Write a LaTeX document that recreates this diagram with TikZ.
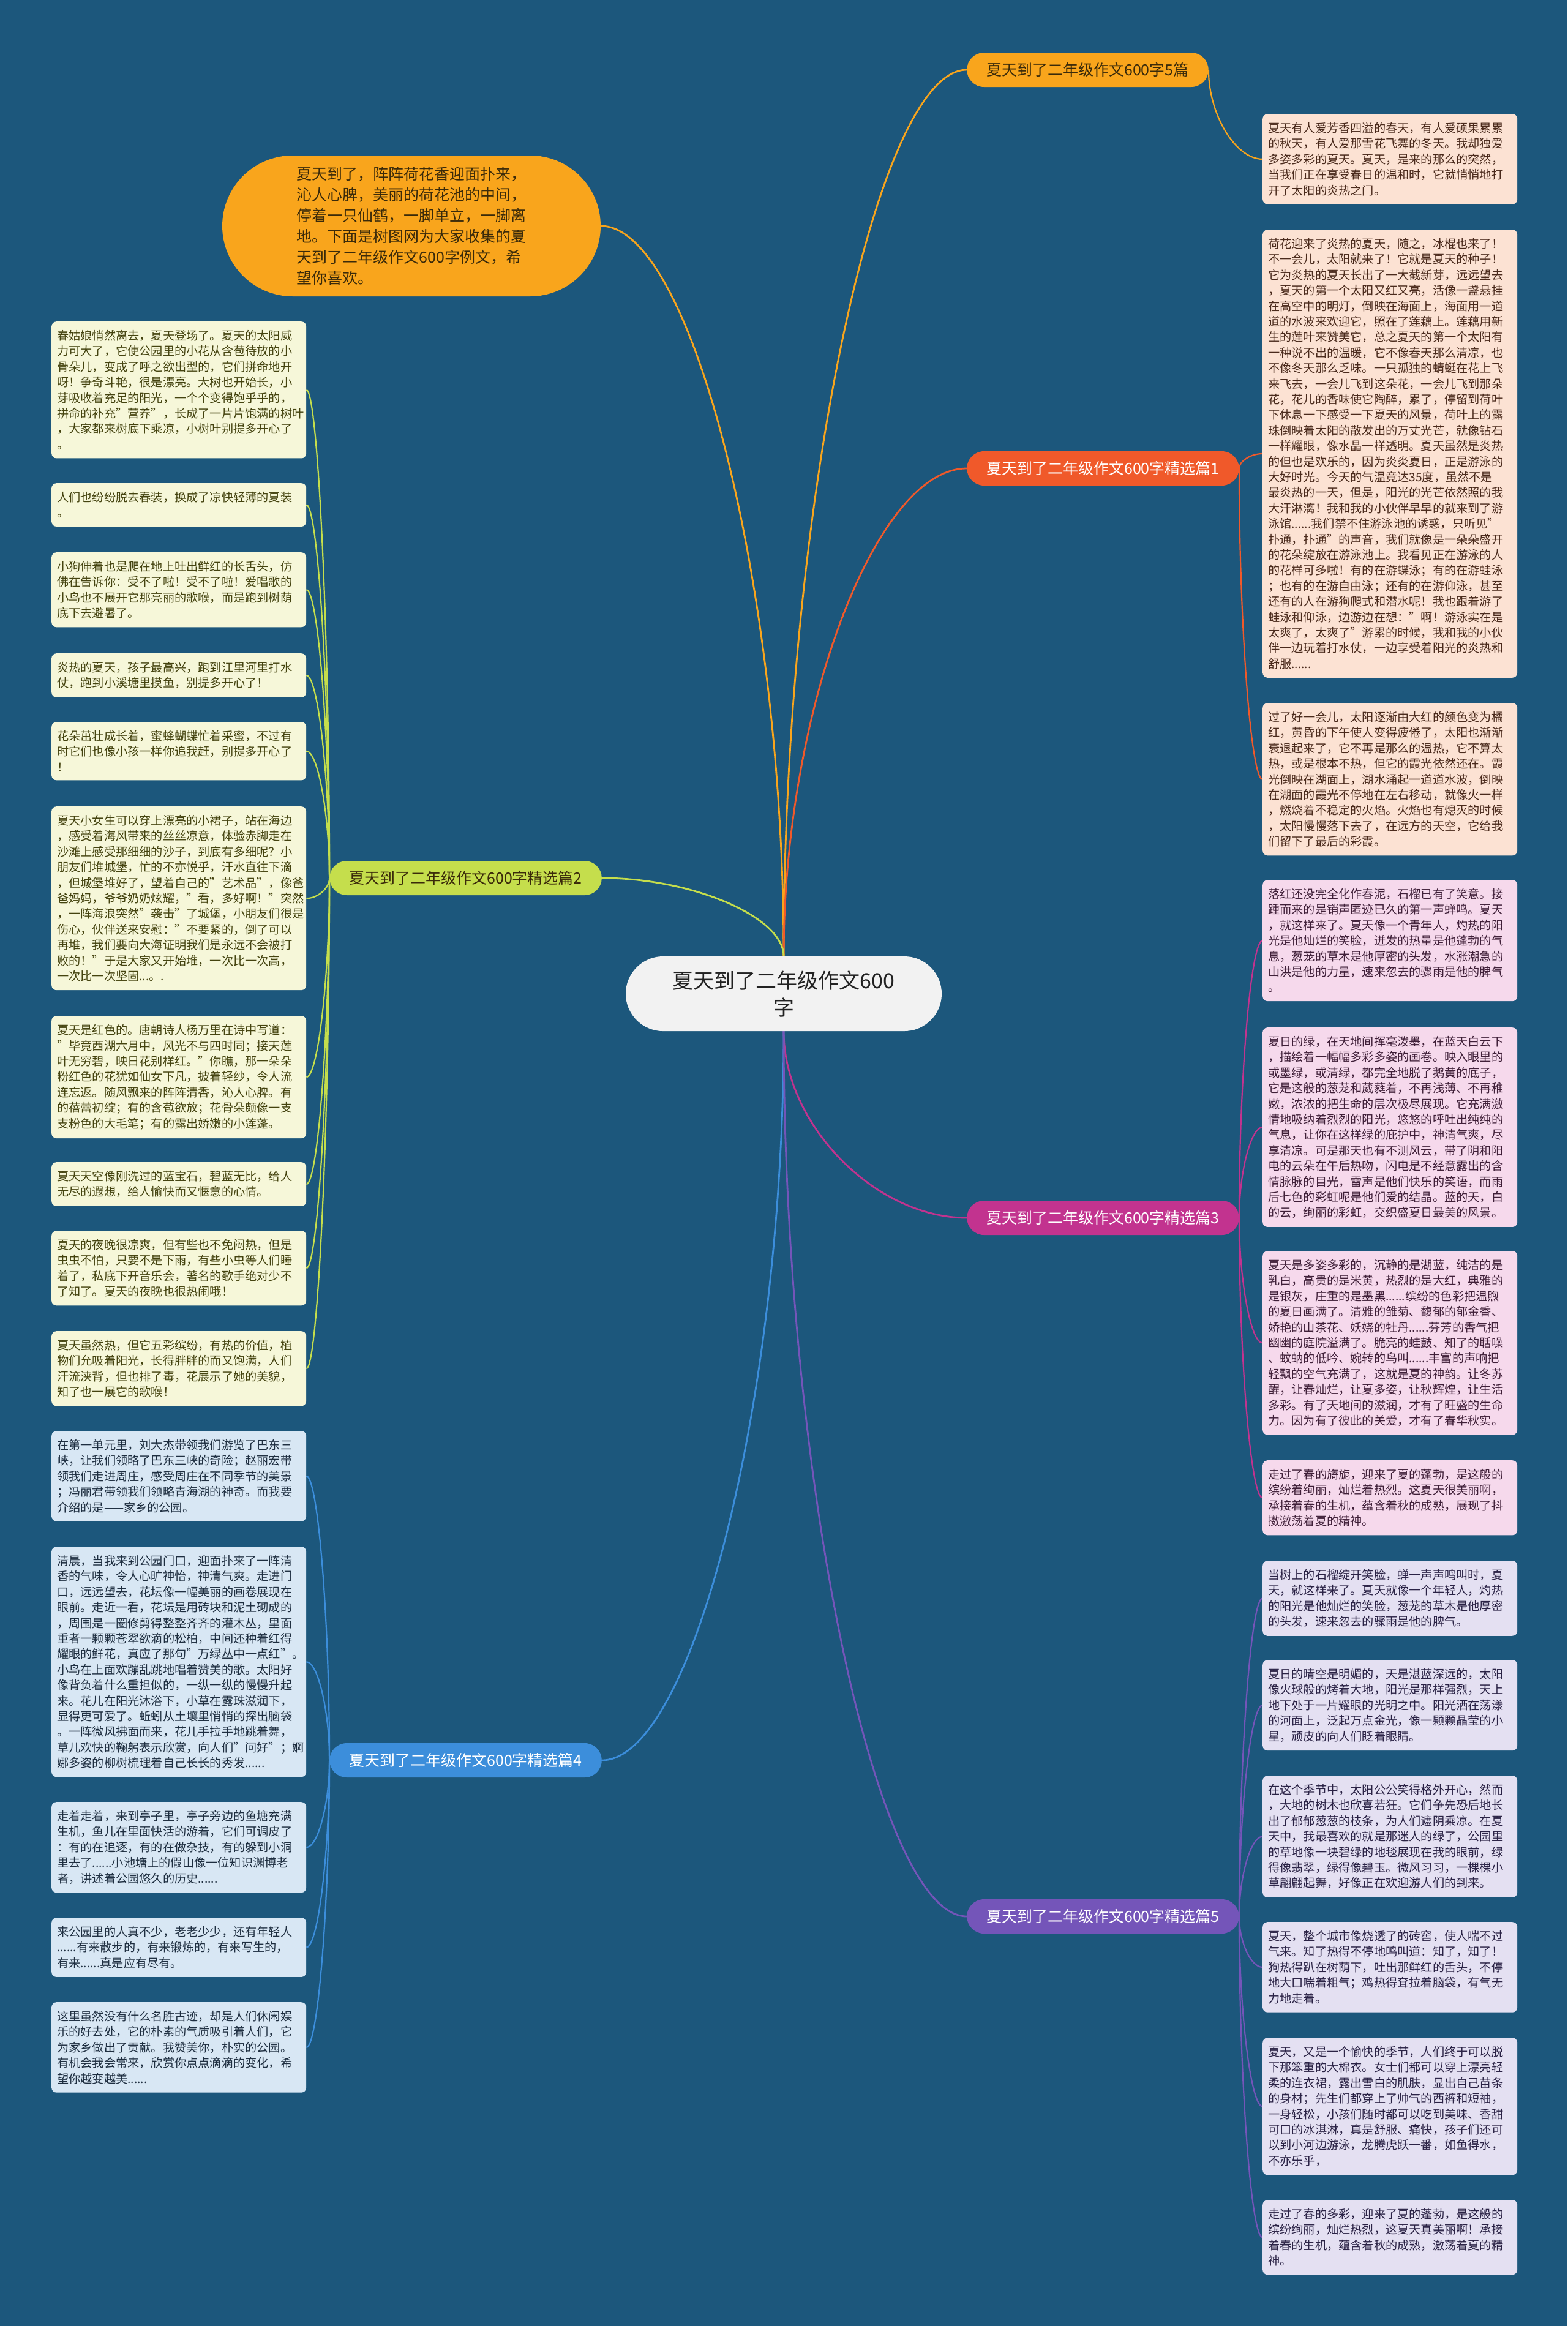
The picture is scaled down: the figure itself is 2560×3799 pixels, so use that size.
\documentclass[tikz,border=0pt]{standalone}
\usepackage{fontspec}
\setmainfont{Noto Sans CJK SC}
\usetikzlibrary{calc}

\definecolor{bg}{HTML}{1C577C}
\definecolor{orangeA}{HTML}{F9A51C}
\definecolor{redA}{HTML}{F0592A}
\definecolor{limeA}{HTML}{C5DE4C}
\definecolor{magA}{HTML}{C2338F}
\definecolor{blueA}{HTML}{3C8EDB}
\definecolor{purA}{HTML}{7455B9}
\definecolor{peachbox}{HTML}{FCE2D3}
\definecolor{peachtxt}{HTML}{4A2A1C}
\definecolor{limebox}{HTML}{F6F7D9}
\definecolor{limetxt}{HTML}{44430F}
\definecolor{pinkbox}{HTML}{F6D9EC}
\definecolor{pinktxt}{HTML}{3F1F38}
\definecolor{bluebox}{HTML}{D8E7F4}
\definecolor{bluetxt}{HTML}{1E2E40}
\definecolor{lavbox}{HTML}{E4E0F2}
\definecolor{lavtxt}{HTML}{2A2245}
\definecolor{centerfill}{HTML}{F2F2F2}
\definecolor{centertxt}{HTML}{222222}
\definecolor{darktxt}{HTML}{3A2A0A}

\pgfdeclarelayer{bgfill}
\pgfdeclarelayer{lines}
\pgfsetlayers{bgfill,lines,main}

\tikzset{
  leafbase/.style={rounded corners=8pt, text width=398pt, inner xsep=9pt, inner ysep=14pt,
    align=left, font=\fontsize{19.2}{25.4}\selectfont},
  leftleaf/.style={leafbase, anchor=north west},
  rightleaf/.style={leafbase, anchor=north west},
  boxlime/.style={fill=limebox, text=limetxt},
  boxblue/.style={fill=bluebox, text=bluetxt},
  boxpeach/.style={fill=peachbox, text=peachtxt},
  boxpink/.style={fill=pinkbox, text=pinktxt},
  boxlav/.style={fill=lavbox, text=lavtxt},
  branchlab/.style={rounded corners=28pt, minimum height=56pt, inner xsep=32pt, inner ysep=0pt,
    font=\fontsize{25}{30}\selectfont},
  mainconn/.style={line width=2.8pt},
  leafconn/.style={line width=2.2pt}
}

\newcommand{\linkit}[3]{\draw[#1] let \p1=(#2), \p2=(#3) in (\p1) .. controls (\x1,{0.5*\y1+0.5*\y2}) and ({0.5*\x1+0.5*\x2},\y2) .. (\p2);}

\begin{document}
\begin{tikzpicture}[x=1pt,y=1pt]
\begin{pgfonlayer}{bgfill}
\fill[bg] (0,0) rectangle (2560,-3799);
\end{pgfonlayer}
\useasboundingbox (0,0) rectangle (2560,-3799);

% central and intro
\node[fill=centerfill, rounded corners=61pt, minimum width=516pt, minimum height=122pt, align=center,
  font=\fontsize{34}{44}\selectfont, text=centertxt] (c) at (1280,-1623) {夏天到了二年级作文600\\字};

\node[fill=orangeA, rounded corners=115pt, minimum width=618pt, minimum height=230pt, align=left,
  font=\fontsize{25}{34}\selectfont, text=darktxt] (intro) at (672,-369) {夏天到了，阵阵荷花香迎面扑来，\\
沁人心脾，美丽的荷花池的中间，\\
停着一只仙鹤，一脚单立，一脚离\\
地。下面是树图网为大家收集的夏\\
天到了二年级作文600字例文，希\\
望你喜欢。};

% branch labels
\node[branchlab, fill=orangeA, text=darktxt, anchor=west] (lab5) at (1579,-114) {夏天到了二年级作文600字5篇};
\node[branchlab, fill=redA, text=white, anchor=west] (lab1) at (1579,-765) {夏天到了二年级作文600字精选篇1};
\node[branchlab, fill=limeA, text=darktxt, anchor=east] (lab2) at (983,-1434) {夏天到了二年级作文600字精选篇2};
\node[branchlab, fill=magA, text=white, anchor=west] (lab3) at (1579,-1989) {夏天到了二年级作文600字精选篇3};
\node[branchlab, fill=blueA, text=white, anchor=east] (lab4) at (983,-2875) {夏天到了二年级作文600字精选篇4};
\node[branchlab, fill=purA, text=white, anchor=west] (lab6) at (1579,-3130) {夏天到了二年级作文600字精选篇5};

% ---------- left: group 2 ----------
\node[leftleaf, boxlime] (a1) at (84,-525) {春姑娘悄然离去，夏天登场了。夏天的太阳威\\
力可大了，它使公园里的小花从含苞待放的小\\
骨朵儿，变成了呼之欲出型的，它们拼命地开\\
呀！争奇斗艳，很是漂亮。大树也开始长，小\\
芽吸收着充足的阳光，一个个变得饱乎乎的，\\
拼命的补充"营养"，长成了一片片饱满的树叶\\
，大家都来树底下乘凉，小树叶别提多开心了\\
。};
\node[leftleaf, boxlime] (a2) at (84,-789) {人们也纷纷脱去春装，换成了凉快轻薄的夏装\\
。};
\node[leftleaf, boxlime] (a3) at (84,-902) {小狗伸着也是爬在地上吐出鲜红的长舌头，仿\\
佛在告诉你：受不了啦！受不了啦！爱唱歌的\\
小鸟也不展开它那亮丽的歌喉，而是跑到树荫\\
底下去避暑了。};
\node[leftleaf, boxlime] (a4) at (84,-1067) {炎热的夏天，孩子最高兴，跑到江里河里打水\\
仗，跑到小溪塘里摸鱼，别提多开心了！};
\node[leftleaf, boxlime] (a5) at (84,-1179) {花朵茁壮成长着，蜜蜂蝴蝶忙着采蜜，不过有\\
时它们也像小孩一样你追我赶，别提多开心了\\
！};
\node[leftleaf, boxlime] (a6) at (84,-1317) {夏天小女生可以穿上漂亮的小裙子，站在海边\\
，感受着海风带来的丝丝凉意，体验赤脚走在\\
沙滩上感受那细细的沙子，到底有多细呢？小\\
朋友们堆城堡，忙的不亦悦乎，汗水直往下滴\\
，但城堡堆好了，望着自己的"艺术品"，像爸\\
爸妈妈，爷爷奶奶炫耀，"看，多好啊！"突然\\
，一阵海浪突然"袭击"了城堡，小朋友们很是\\
伤心，伙伴送来安慰："不要紧的，倒了可以\\
再堆，我们要向大海证明我们是永远不会被打\\
败的！"于是大家又开始堆，一次比一次高，\\
一次比一次坚固...。.};
\node[leftleaf, boxlime] (a7) at (84,-1659) {夏天是红色的。唐朝诗人杨万里在诗中写道：\\
"毕竟西湖六月中，风光不与四时同；接天莲\\
叶无穷碧，映日花别样红。"你瞧，那一朵朵\\
粉红色的花犹如仙女下凡，披着轻纱，令人流\\
连忘返。随风飘来的阵阵清香，沁人心脾。有\\
的蓓蕾初绽；有的含苞欲放；花骨朵颇像一支\\
支粉色的大毛笔；有的露出娇嫩的小莲蓬。};
\node[leftleaf, boxlime] (a8) at (84,-1898) {夏天天空像刚洗过的蓝宝石，碧蓝无比，给人\\
无尽的遐想，给人愉快而又惬意的心情。};
\node[leftleaf, boxlime] (a9) at (84,-2010) {夏天的夜晚很凉爽，但有些也不免闷热，但是\\
虫虫不怕，只要不是下雨，有些小虫等人们睡\\
着了，私底下开音乐会，著名的歌手绝对少不\\
了知了。夏天的夜晚也很热闹哦！};
\node[leftleaf, boxlime] (a10) at (84,-2174) {夏天虽然热，但它五彩缤纷，有热的价值，植\\
物们允吸着阳光，长得胖胖的而又饱满，人们\\
汗流浃背，但也排了毒，花展示了她的美貌，\\
知了也一展它的歌喉！};

% ---------- left: group 4 ----------
\node[leftleaf, boxblue] (b1) at (84,-2337) {在第一单元里，刘大杰带领我们游览了巴东三\\
峡，让我们领略了巴东三峡的奇险；赵丽宏带\\
领我们走进周庄，感受周庄在不同季节的美景\\
；冯丽君带领我们领略青海湖的神奇。而我要\\
介绍的是——家乡的公园。};
\node[leftleaf, boxblue] (b2) at (84,-2526) {清晨，当我来到公园门口，迎面扑来了一阵清\\
香的气味，令人心旷神怡，神清气爽。走进门\\
口，远远望去，花坛像一幅美丽的画卷展现在\\
眼前。走近一看，花坛是用砖块和泥土砌成的\\
，周围是一圈修剪得整整齐齐的灌木丛，里面\\
重者一颗颗苍翠欲滴的松柏，中间还种着红得\\
耀眼的鲜花，真应了那句"万绿丛中一点红"。\\
小鸟在上面欢蹦乱跳地唱着赞美的歌。太阳好\\
像背负着什么重担似的，一纵一纵的慢慢升起\\
来。花儿在阳光沐浴下，小草在露珠滋润下，\\
显得更可爱了。蚯蚓从土壤里悄悄的探出脑袋\\
。一阵微风拂面而来，花儿手拉手地跳着舞，\\
草儿欢快的鞠躬表示欣赏，向人们"问好"；婀\\
娜多姿的柳树梳理着自己长长的秀发......};
\node[leftleaf, boxblue] (b3) at (84,-2943) {走着走着，来到亭子里，亭子旁边的鱼塘充满\\
生机，鱼儿在里面快活的游着，它们可调皮了\\
：有的在追逐，有的在做杂技，有的躲到小洞\\
里去了......小池塘上的假山像一位知识渊博老\\
者，讲述着公园悠久的历史......};
\node[leftleaf, boxblue] (b4) at (84,-3132) {来公园里的人真不少，老老少少，还有年轻人\\
......有来散步的，有来锻炼的，有来写生的，\\
有来......真是应有尽有。};
\node[leftleaf, boxblue] (b5) at (84,-3270) {这里虽然没有什么名胜古迹，却是人们休闲娱\\
乐的好去处，它的朴素的气质吸引着人们，它\\
为家乡做出了贡献。我赞美你，朴实的公园。\\
有机会我会常来，欣赏你点点滴滴的变化，希\\
望你越变越美......};

% ---------- right: 5篇 ----------
\node[rightleaf, boxpeach] (r0) at (2062,-186) {夏天有人爱芳香四溢的春天，有人爱硕果累累\\
的秋天，有人爱那雪花飞舞的冬天。我却独爱\\
多姿多彩的夏天。夏天，是来的那么的突然，\\
当我们正在享受春日的温和时，它就悄悄地打\\
开了太阳的炎热之门。};

% ---------- right: 篇1 ----------
\node[rightleaf, boxpeach] (r1) at (2062,-375) {荷花迎来了炎热的夏天，随之，冰棍也来了！\\
不一会儿，太阳就来了！它就是夏天的种子！\\
它为炎热的夏天长出了一大截新芽，远远望去\\
，夏天的第一个太阳又红又亮，活像一盏悬挂\\
在高空中的明灯，倒映在海面上，海面用一道\\
道的水波来欢迎它，照在了莲藕上。莲藕用新\\
生的莲叶来赞美它，总之夏天的第一个太阳有\\
一种说不出的温暖，它不像春天那么清凉，也\\
不像冬天那么乏味。一只孤独的蜻蜓在花上飞\\
来飞去，一会儿飞到这朵花，一会儿飞到那朵\\
花，花儿的香味使它陶醉，累了，停留到荷叶\\
下休息一下感受一下夏天的风景，荷叶上的露\\
珠倒映着太阳的散发出的万丈光芒，就像钻石\\
一样耀眼，像水晶一样透明。夏天虽然是炎热\\
的但也是欢乐的，因为炎炎夏日，正是游泳的\\
大好时光。今天的气温竟达35度，虽然不是\\
最炎热的一天，但是，阳光的光芒依然照的我\\
大汗淋漓！我和我的小伙伴早早的就来到了游\\
泳馆......我们禁不住游泳池的诱惑，只听见"\\
扑通，扑通"的声音，我们就像是一朵朵盛开\\
的花朵绽放在游泳池上。我看见正在游泳的人\\
的花样可多啦！有的在游蝶泳；有的在游蛙泳\\
；也有的在游自由泳；还有的在游仰泳，甚至\\
还有的人在游狗爬式和潜水呢！我也跟着游了\\
蛙泳和仰泳，边游边在想："啊！游泳实在是\\
太爽了，太爽了"游累的时候，我和我的小伙\\
伴一边玩着打水仗，一边享受着阳光的炎热和\\
舒服......};
\node[rightleaf, boxpeach] (r2) at (2062,-1148) {过了好一会儿，太阳逐渐由大红的颜色变为橘\\
红，黄昏的下午使人变得疲倦了，太阳也渐渐\\
衰退起来了，它不再是那么的温热，它不算太\\
热，或是根本不热，但它的霞光依然还在。霞\\
光倒映在湖面上，湖水涌起一道道水波，倒映\\
在湖面的霞光不停地在左右移动，就像火一样\\
，燃烧着不稳定的火焰。火焰也有熄灭的时候\\
，太阳慢慢落下去了，在远方的天空，它给我\\
们留下了最后的彩霞。};

% ---------- right: 篇3 ----------
\node[rightleaf, boxpink] (m1) at (2062,-1437) {落红还没完全化作春泥，石榴已有了笑意。接\\
踵而来的是销声匿迹已久的第一声蝉鸣。夏天\\
，就这样来了。夏天像一个青年人，灼热的阳\\
光是他灿烂的笑脸，迸发的热量是他蓬勃的气\\
息，葱茏的草木是他厚密的头发，水涨潮急的\\
山洪是他的力量，速来忽去的骤雨是他的脾气\\
。};
\node[rightleaf, boxpink] (m2) at (2062,-1678) {夏日的绿，在天地间挥毫泼墨，在蓝天白云下\\
，描绘着一幅幅多彩多姿的画卷。映入眼里的\\
或墨绿，或清绿，都完全地脱了鹅黄的底子，\\
它是这般的葱茏和葳蕤着，不再浅薄、不再稚\\
嫩，浓浓的把生命的层次极尽展现。它充满激\\
情地吸纳着烈烈的阳光，悠悠的呼吐出纯纯的\\
气息，让你在这样绿的庇护中，神清气爽，尽\\
享清凉。可是那天也有不测风云，带了阴和阳\\
电的云朵在午后热吻，闪电是不经意露出的含\\
情脉脉的目光，雷声是他们快乐的笑语，而雨\\
后七色的彩虹呢是他们爱的结晶。蓝的天，白\\
的云，绚丽的彩虹，交织盛夏日最美的风景。};
\node[rightleaf, boxpink] (m3) at (2062,-2043) {夏天是多姿多彩的，沉静的是湖蓝，纯洁的是\\
乳白，高贵的是米黄，热烈的是大红，典雅的\\
是银灰，庄重的是墨黑......缤纷的色彩把温煦\\
的夏日画满了。清雅的雏菊、馥郁的郁金香、\\
娇艳的山茶花、妖娆的牡丹......芬芳的香气把\\
幽幽的庭院溢满了。脆亮的蛙鼓、知了的聒噪\\
、蚊蚋的低吟、婉转的鸟叫......丰富的声响把\\
轻飘的空气充满了，这就是夏的神韵。让冬苏\\
醒，让春灿烂，让夏多姿，让秋辉煌，让生活\\
多彩。有了天地间的滋润，才有了旺盛的生命\\
力。因为有了彼此的关爱，才有了春华秋实。};
\node[rightleaf, boxpink] (m4) at (2062,-2385) {走过了春的旖旎，迎来了夏的蓬勃，是这般的\\
缤纷着绚丽，灿烂着热烈。这夏天很美丽啊，\\
承接着春的生机，蕴含着秋的成熟，展现了抖\\
擞激荡着夏的精神。};

% ---------- right: 篇5 bottom ----------
\node[rightleaf, boxlav] (p1) at (2062,-2549) {当树上的石榴绽开笑脸，蝉一声声鸣叫时，夏\\
天，就这样来了。夏天就像一个年轻人，灼热\\
的阳光是他灿烂的笑脸，葱茏的草木是他厚密\\
的头发，速来忽去的骤雨是他的脾气。};
\node[rightleaf, boxlav] (p2) at (2062,-2711) {夏日的晴空是明媚的，天是湛蓝深远的，太阳\\
像火球般的烤着大地，阳光是那样强烈，天上\\
地下处于一片耀眼的光明之中。阳光洒在荡漾\\
的河面上，泛起万点金光，像一颗颗晶莹的小\\
星，顽皮的向人们眨着眼睛。};
\node[rightleaf, boxlav] (p3) at (2062,-2900) {在这个季节中，太阳公公笑得格外开心，然而\\
，大地的树木也欣喜若狂。它们争先恐后地长\\
出了郁郁葱葱的枝条，为人们遮阴乘凉。在夏\\
天中，我最喜欢的就是那迷人的绿了，公园里\\
的草地像一块碧绿的地毯展现在我的眼前，绿\\
得像翡翠，绿得像碧玉。微风习习，一棵棵小\\
草翩翩起舞，好像正在欢迎游人们的到来。};
\node[rightleaf, boxlav] (p4) at (2062,-3139) {夏天，整个城市像烧透了的砖窖，使人喘不过\\
气来。知了热得不停地鸣叫道：知了，知了！\\
狗热得趴在树荫下，吐出那鲜红的舌头，不停\\
地大口喘着粗气；鸡热得耷拉着脑袋，有气无\\
力地走着。};
\node[rightleaf, boxlav] (p5) at (2062,-3328) {夏天，又是一个愉快的季节，人们终于可以脱\\
下那笨重的大棉衣。女士们都可以穿上漂亮轻\\
柔的连衣裙，露出雪白的肌肤，显出自己苗条\\
的身材；先生们都穿上了帅气的西裤和短袖，\\
一身轻松，小孩们随时都可以吃到美味、香甜\\
可口的冰淇淋，真是舒服、痛快，孩子们还可\\
以到小河边游泳，龙腾虎跃一番，如鱼得水，\\
不亦乐乎，};
\node[rightleaf, boxlav] (p6) at (2062,-3593) {走过了春的多彩，迎来了夏的蓬勃，是这般的\\
缤纷绚丽，灿烂热烈，这夏天真美丽啊！承接\\
着春的生机，蕴含着秋的成熟，激荡着夏的精\\
神。};

% ---------- connectors ----------
\begin{pgfonlayer}{lines}
\linkit{mainconn, orangeA}{c.north}{intro.east}
\linkit{mainconn, orangeA}{c.north}{lab5.west}
\linkit{mainconn, redA}{c.north}{lab1.west}
\linkit{mainconn, limeA}{c.north}{lab2.east}
\linkit{mainconn, magA}{c.south}{lab3.west}
\linkit{mainconn, blueA}{c.south}{lab4.east}
\linkit{mainconn, purA}{c.south}{lab6.west}

\linkit{leafconn, orangeA}{lab5.east}{r0.west}
\foreach \bx in {r1,r2} {\linkit{leafconn, redA}{lab1.east}{\bx.west}}
\foreach \bx in {a1,a2,a3,a4,a5,a6,a7,a8,a9,a10} {\linkit{leafconn, limeA}{lab2.west}{\bx.east}}
\foreach \bx in {m1,m2,m3,m4} {\linkit{leafconn, magA}{lab3.east}{\bx.west}}
\foreach \bx in {b1,b2,b3,b4,b5} {\linkit{leafconn, blueA}{lab4.west}{\bx.east}}
\foreach \bx in {p1,p2,p3,p4,p5,p6} {\linkit{leafconn, purA}{lab6.east}{\bx.west}}
\end{pgfonlayer}

\end{tikzpicture}
\end{document}
